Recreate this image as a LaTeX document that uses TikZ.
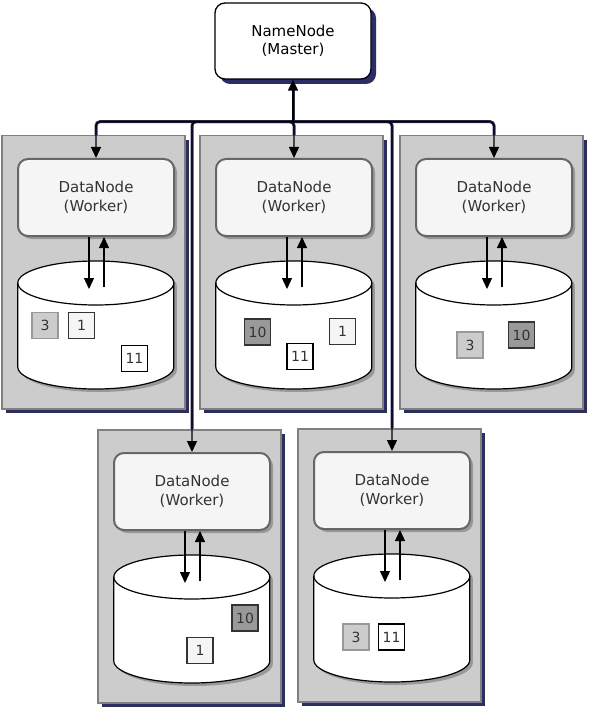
\documentclass[tikz,border=0pt]{standalone}
\usepackage{fontspec}
\setmainfont{DejaVu Sans}
\usetikzlibrary{arrows.meta,positioning,shadows,backgrounds}
\definecolor{Host}{HTML}{CCCCCC}
\definecolor{HostLine}{HTML}{808080}
\definecolor{Work}{HTML}{F5F5F5}
\definecolor{WorkLine}{HTML}{666666}
\definecolor{Ink}{HTML}{333333}
\definecolor{Mid}{HTML}{999999}
\definecolor{Shade}{HTML}{2B2D66}

\begin{document}
\begin{tikzpicture}[x=1pt,y=-1pt,
  host/.style={draw=HostLine,fill=Host,line width=1.5pt,inner sep=0pt,
    minimum width=183pt,minimum height=273pt,anchor=north west,
    drop shadow={shadow xshift=4pt,shadow yshift=-4pt,fill=Shade,opacity=1}},
  master/.style={draw=black,fill=white,line width=1.3pt,rounded corners=10pt,
    minimum width=156pt,minimum height=76pt,align=center,
    font=\fontsize{15}{18.5}\selectfont,
    drop shadow={shadow xshift=5pt,shadow yshift=-5pt,fill=Shade,opacity=1}},
  worker/.style={draw=WorkLine,fill=Work,text=Ink,line width=2pt,rounded corners=10pt,
    minimum width=156pt,minimum height=77pt,align=center,anchor=north west,
    font=\fontsize{15}{18.5}\selectfont,
    drop shadow={shadow xshift=3pt,shadow yshift=-3pt,fill=black,opacity=0.25}},
  store/.style={minimum width=156pt,minimum height=128pt,inner sep=0pt},
  disk/.style={draw=black,fill=white,line width=1.2pt},
  wire/.style={draw=black,line width=1.3pt,rounded corners=4pt},
  link/.style={wire,-{Triangle[length=11pt,width=10pt]}},
  wireshade/.style={draw=Shade,line width=3pt,rounded corners=4pt},
  blk/.style={minimum size=26pt,inner sep=0pt,line width=1.2pt,text=Ink,
    font=\fontsize{14}{16}\selectfont}]
  \useasboundingbox (0,0) rectangle (600,722);
  \begin{scope}[on background layer]
    \fill[white] (0,0) rectangle (600,722);
  \end{scope}

  \node[master] (nn) at (293,41) {NameNode\\(Master)};
  \path (nn.south) ++(0,42) coordinate (bus);

  % hosts, each with a datanode and its disk
  \foreach \i/\x/\y in {1/1/135,2/199/135,3/399/135,4/97/429,5/297/428} {
    \node[host] (c\i) at (\x,\y) {};
    \node[worker,below right=23pt and 16pt of c\i.north west] (d\i) {DataNode\\(Worker)};
    \node[store,below=24pt of d\i.south] (s\i) {};
    \fill[black,opacity=0.25] ([shift={(3,3)}]s\i.north west) ++(0,22) -- ++(0,84)
      arc[start angle=180,end angle=0,x radius=78,y radius=22] -- ++(0,-84)
      arc[start angle=0,end angle=-180,x radius=78,y radius=22] -- cycle;
    \draw[disk] (s\i.north west) ++(0,22) -- ++(0,84)
      arc[start angle=180,end angle=0,x radius=78,y radius=22] -- ++(0,-84)
      arc[start angle=0,end angle=-180,x radius=78,y radius=22] -- cycle;
    \draw[disk,fill=none] (s\i.north west) ++(0,22)
      arc[start angle=180,end angle=0,x radius=78,y radius=22];
    \draw[link] ([xshift=-7pt]d\i.south) -- ([xshift=-7pt,yshift=-28pt]s\i.north);
    \draw[link] ([xshift=8pt,yshift=-26pt]s\i.north) -- ([xshift=8pt]d\i.south);
  }

  % blocks stored on each disk
  \foreach \nm/\x/\y/\fc/\dc/\lab in {
    b1a/45/325.5/Host/Mid/3, b1b/81.5/325.5/Work/black!80/1, b1c/134.5/358.5/white/black/11,
    b2a/257.5/332/Mid/black!80/10, b2b/342.5/331.5/Work/black!80/1, b2c/300/356.5/white/black/11,
    b3a/470/345/Host/Mid/3, b3b/521.5/335/Mid/black!80/10,
    b4a/245/618/Mid/black!80/10, b4b/200/650.5/Work/black!80/1,
    b5a/356/637/Host/Mid/3, b5b/391.5/637/white/black/11} {
    \node[blk,fill=\fc,draw=\dc] (\nm) at (\x,\y) {\lab};
  }

  % namenode to datanodes
  \begin{scope}[on background layer,transform canvas={shift={(2pt,-2.5pt)}}]
    \draw[wireshade] (bus) -- (nn.south);
    \foreach \i in {1,...,5}
      \draw[wireshade] (bus) -| (d\i.north);
  \end{scope}
  \draw[link] (bus) -- (nn.south);
  \foreach \i in {1,...,5}
    \draw[link] (bus) -| (d\i.north);
\end{tikzpicture}
\end{document}
